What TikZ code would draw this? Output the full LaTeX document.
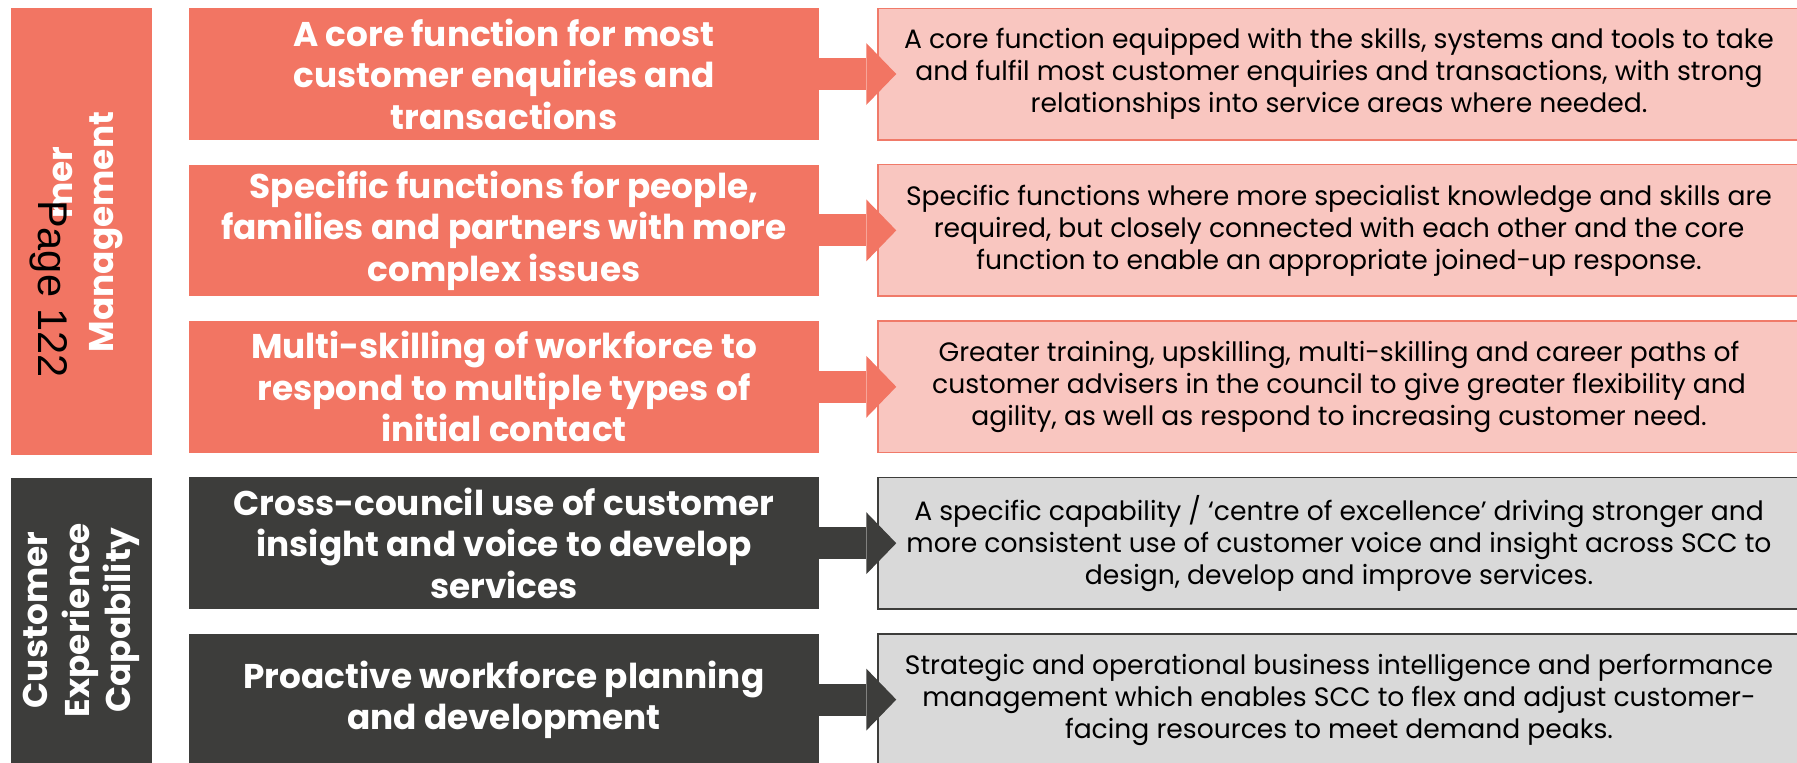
\documentclass[tikz,border=0pt]{standalone}
\usepackage{fontspec}
\setmainfont{Poppins}
\newfontfamily\pagefont{Liberation Sans}
\usetikzlibrary{arrows.meta}

\definecolor{salmon}{HTML}{F27563}
\definecolor{blush}{HTML}{F9C6C0}
\definecolor{blushline}{HTML}{F07A69}
\definecolor{charcoal}{HTML}{3D3D3B}
\definecolor{mist}{HTML}{D9D9D9}

\tikzset{
  heading/.style={text=white, font=\fontsize{34.3}{41.5}\selectfont\bfseries},
  theme/.style={heading, minimum width=630pt, minimum height=131.5pt,
    inner sep=0pt, align=center},
  detail/.style={minimum width=922pt, minimum height=131.5pt, inner sep=0pt,
    align=center, line width=1.5pt, font=\fontsize{26.6}{32}\selectfont},
  bigarrow/.style={draw=#1, line width=32pt, shorten >=-19pt,
    -{Triangle[width=62pt, length=30pt, line width=0pt]}},
}

\begin{document}
\begin{tikzpicture}[x=1pt, y=-1pt]
  \useasboundingbox (0,0) rectangle (1797,763);
  \clip (0,0) rectangle (1797,763);

  % group bars on the left
  \fill[salmon] (11,8) rectangle (152,455);
  \fill[charcoal] (11,478) rectangle (152,780);

  \node[heading, rotate=90, anchor=base east] (cmtail) at (72,143) {mer};
  \node[heading, rotate=90, anchor=base] (cmhead) at (113,232) {Management};
  \node[rotate=-90, anchor=base west, inner sep=0pt,
    font=\pagefont\fontsize{41.5}{41.5}\selectfont] (pageno) at (38,200) {Page 122};
  \node[heading, rotate=90, align=center] (cxlabel) at (81.5,620)
    {Customer\\Experience\\Capability};

  % customer management rows
  \node[theme, fill=salmon] (t1) at (504,74)
    {A core function for most\\customer enquiries and\\transactions};
  \node[detail, fill=blush, draw=blushline] (d1) at (1339,74)
    {A core function equipped with the skills, systems and tools to take\\and fulfil most customer enquiries and transactions, with strong\\relationships into service areas where needed.};

  \node[theme, fill=salmon] (t2) at (504,230.4)
    {Specific functions for people,\\families and partners with more\\complex issues};
  \node[detail, fill=blush, draw=blushline] (d2) at (1339,230.4)
    {Specific functions where more specialist knowledge and skills are\\required, but closely connected with each other and the core\\function to enable an appropriate joined-up response.};

  \node[theme, fill=salmon] (t3) at (504,386.8)
    {Multi-skilling of workforce to\\respond to multiple types of\\initial contact};
  \node[detail, fill=blush, draw=blushline] (d3) at (1339,386.8)
    {Greater training, upskilling, multi-skilling and career paths of\\customer advisers in the council to give greater flexibility and\\agility, as well as respond to increasing customer need.};

  % customer experience rows
  \node[theme, fill=charcoal] (t4) at (504,543.2)
    {Cross-council use of customer\\insight and voice to develop\\services};
  \node[detail, fill=mist, draw=charcoal] (d4) at (1339,543.2)
    {A specific capability / ‘centre of excellence’ driving stronger and\\more consistent use of customer voice and insight across SCC to\\design, develop and improve services.};

  \node[theme, fill=charcoal] (t5) at (504,699.6)
    {Proactive workforce planning\\and development};
  \node[detail, fill=mist, draw=charcoal] (d5) at (1339,699.6)
    {Strategic and operational business intelligence and performance\\management which enables SCC to flex and adjust customer-\\facing resources to meet demand peaks.};

  \foreach \i/\c in {1/salmon,2/salmon,3/salmon,4/charcoal,5/charcoal}
    \draw[bigarrow=\c] (t\i) -- (d\i);
\end{tikzpicture}
\end{document}
